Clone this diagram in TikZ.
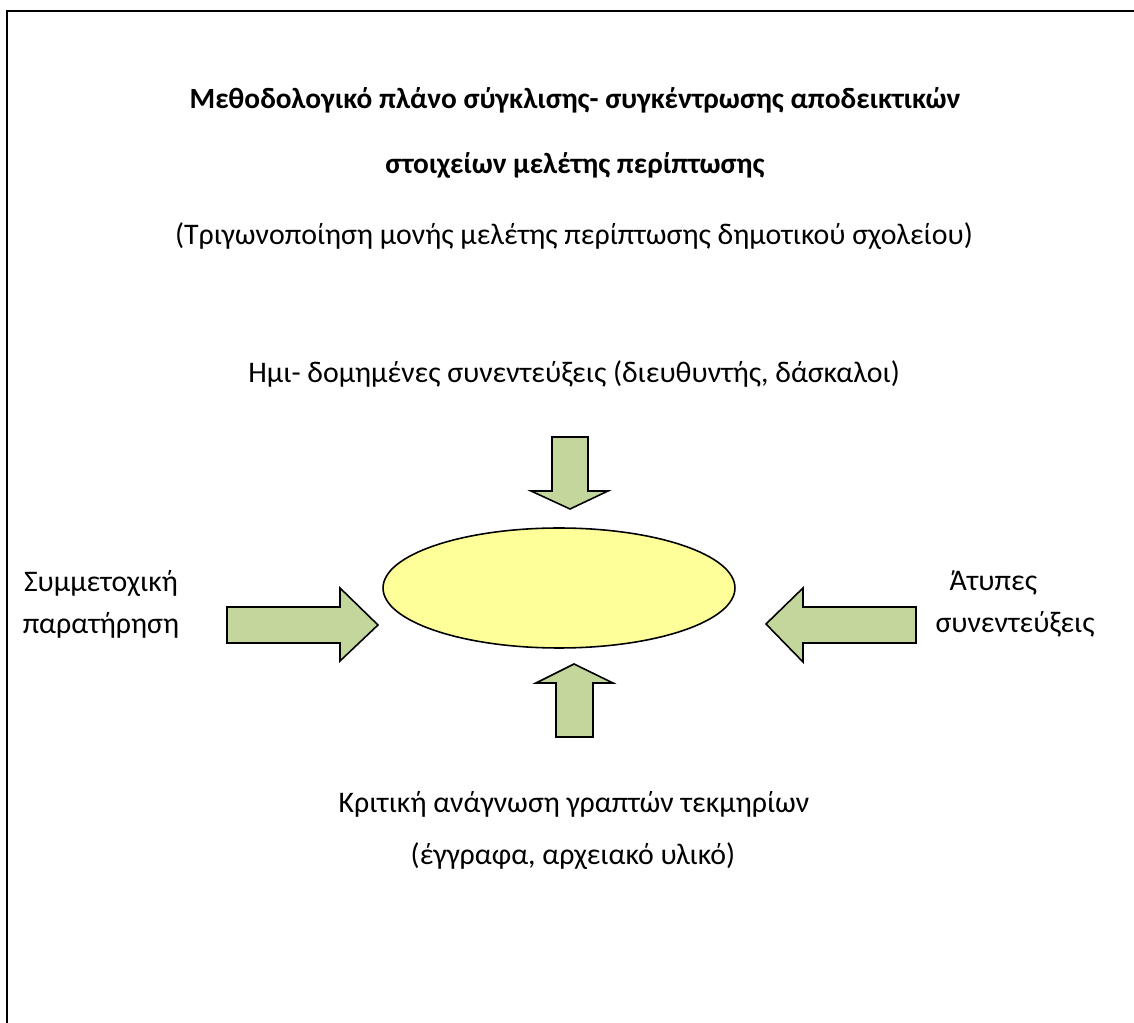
\documentclass[tikz,border=0pt]{standalone}
\usepackage{fontspec}
\setmainfont{Carlito}
\usetikzlibrary{positioning}
\usetikzlibrary{shapes.geometric}
\definecolor{arrowgreen}{HTML}{C3D69B}
\definecolor{paleyellow}{HTML}{FFFF99}
\tikzset{
  txt/.style={inner sep=0pt, font=\fontsize{17}{24}\selectfont},
  ttl/.style={txt, font=\fontsize{16.7}{24}\selectfont\bfseries},
  blockarrow/.style={draw=black, line width=0.9pt, fill=arrowgreen, line join=miter},
}

\begin{document}
\begin{tikzpicture}[x=0.02cm, y=-0.02cm]
    \clip (0,0) rectangle (1134,1023);
    \draw[line width=1.2pt] (7,11) rectangle (1160,1050);

    \node[ttl] (T1) at (575,100) {Μεθοδολογικό πλάνο σύγκλισης- συγκέντρωσης αποδεικτικών};
    \node[ttl] (T2) at (575,165) {στοιχείων μελέτης περίπτωσης};
    \node[txt] (T3) at (574,236) {(Τριγωνοποίηση μονής μελέτης περίπτωσης δημοτικού σχολείου)};

    \node[txt] (top) at (574,374) {Ημι- δομημένες συνεντεύξεις (διευθυντής, δάσκαλοι)};
    \node[txt, align=center] (left) at (101,604) {Συμμετοχική\\παρατήρηση};
    \node[txt, align=left] (right) at (1015,604) {\hspace*{8pt}Άτυπες\\συνεντεύξεις};
    \node[txt] (bot1) at (574,804) {Κριτική ανάγνωση γραπτών τεκμηρίων};
    \node[txt] (bot2) at (573,856) {(έγγραφα, αρχειακό υλικό)};

    \node[draw=black, line width=0.9pt, fill=paleyellow, ellipse, minimum width=7.04cm, minimum height=2.4cm, inner sep=0pt] (core) at (559,588) {};

    % arrows towards the centre
    \draw[blockarrow] (552,437) -- (588,437) -- (588,491) -- (608,491) -- (570,509) -- (531,491) -- (552,491) -- cycle;
    \draw[blockarrow] (556,737) -- (593,737) -- (593,683) -- (613,683) -- (574,664) -- (536,683) -- (556,683) -- cycle;
    \draw[blockarrow] (227,607) -- (340,607) -- (340,588) -- (378,625) -- (340,661) -- (340,643) -- (227,643) -- cycle;
    \draw[blockarrow] (916,607) -- (803,607) -- (803,588) -- (766,624) -- (803,662) -- (803,643) -- (916,643) -- cycle;
\end{tikzpicture}
\end{document}
